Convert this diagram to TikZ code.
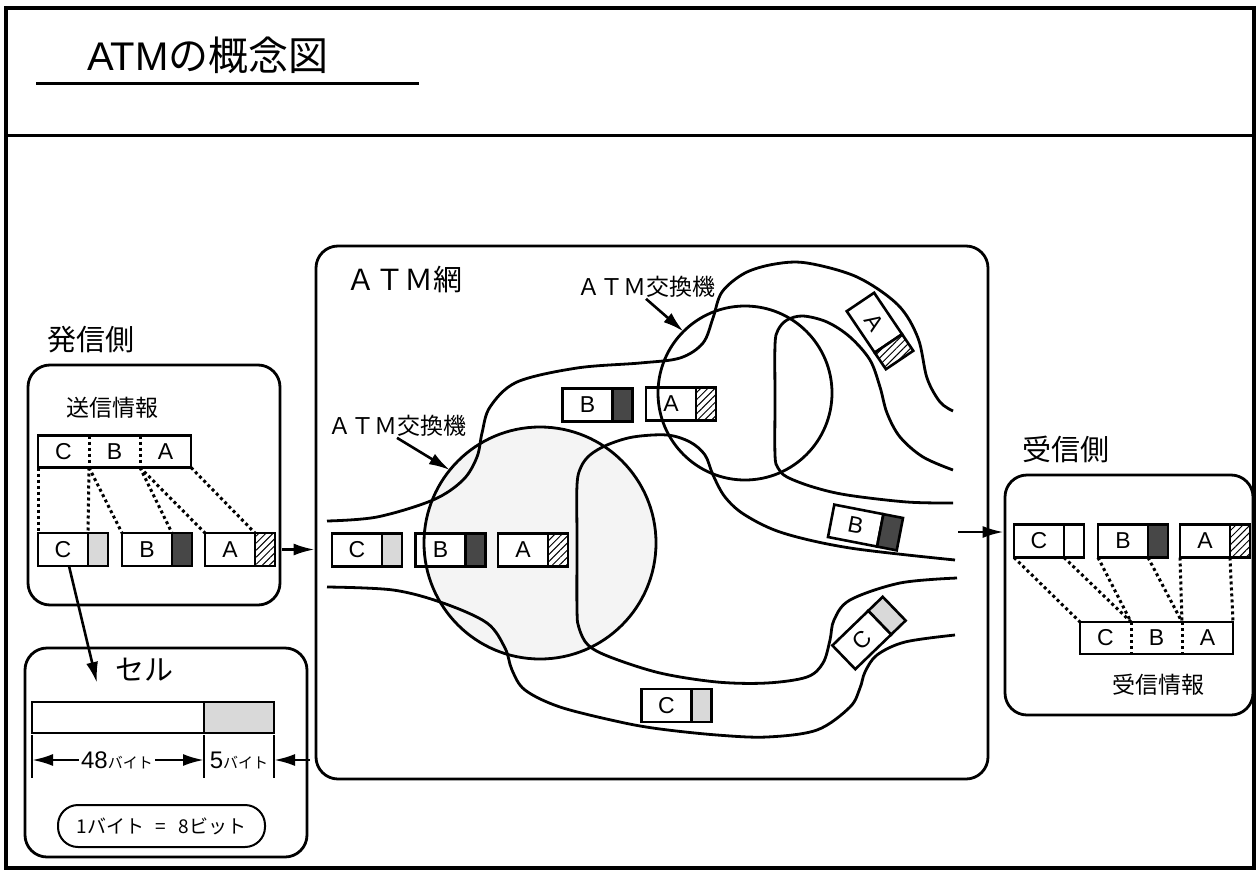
\documentclass[tikz,border=0pt]{standalone}
\usepackage{fontspec}
\setmainfont{Noto Sans CJK JP}
\newfontfamily\lsans{Liberation Sans}
\usetikzlibrary{arrows.meta,positioning,patterns.meta}

\tikzset{
  roundbox/.style={draw, line width=2.8pt, rounded corners=22pt, inner sep=0pt},
  cellbody/.style={draw, line width=2.6pt, fill=white, minimum width=50pt, minimum height=33pt,
    inner sep=0pt, outer sep=0pt, font=\lsans\fontsize{23}{23}\selectfont},
  cellhdr/.style={draw, line width=2.6pt, minimum width=20pt, minimum height=33pt,
    inner sep=0pt, outer sep=0pt},
  lighthdr/.style={fill=gray!30},
  darkhdr/.style={fill=black!72},
  hatchhdr/.style={preaction={fill=white}, pattern={Lines[angle=45,distance=5pt,line width=1pt]}},
  whitehdr/.style={fill=white},
  infopart/.style={minimum width=51pt, minimum height=32pt, inner sep=0pt, outer sep=0pt,
    font=\lsans\fontsize{23}{23}\selectfont},
  dotline/.style={line width=3pt, dash pattern=on 3pt off 3pt},
  netline/.style={line width=2.8pt},
  switch/.style={draw, circle, line width=2.8pt, inner sep=0pt, outer sep=0pt},
  arr/.style={-{Latex[length=21pt,width=12pt]}, line width=2.6pt},
  biglbl/.style={font=\fontsize{29}{32}\selectfont},
  midlbl/.style={font=\fontsize{23}{26}\selectfont}
}

% one ATM cell: name, centre, letter, header style, angle
\newcommand{\atmcell}[5]{%
  \begin{scope}[shift={#2}, rotate=#5, transform shape]
    \node[cellbody] (#1p) at (-10,0) {#3};
    \node[cellhdr, #4, anchor=west] (#1h) at (#1p.east) {};
  \end{scope}}

\begin{document}
\begin{tikzpicture}[x=1pt,y=-1pt]
\useasboundingbox (0,0) rectangle (1258,870);

% frame and title
\draw[line width=3.5pt] (6,8) rectangle (1254,868);
\draw[line width=3pt] (6,135) -- (1254,135);
\node[anchor=base west, inner sep=0pt, font=\fontsize{40}{44}\selectfont] (title) at (87,70) {{\lsans ATM}の概念図};
\draw[line width=3pt] (36,83) -- (419,83);

% boxes
\node[roundbox, minimum width=252pt, minimum height=240pt] (sendbox) at (154,485) {};
\node[roundbox, minimum width=282pt, minimum height=209pt] (cellbox) at (166,752.5) {};
\node[roundbox, minimum width=672pt, minimum height=533pt] (netbox) at (652,512.5) {};
\node[roundbox, minimum width=248pt, minimum height=240pt] (recvbox) at (1129,595) {};

% ATM network
\fill[gray!9] (540,543) circle[radius=116];

\draw[netline] plot[smooth, tension=0.55] coordinates {(327,521) (377,517) (433,500) (463,480)
  (477,457) (482,433) (490,407) (517,382) (577,368) (640,363) (680,358) (703,343) (713,318)
  (722,292) (745,273) (775,264) (807,263) (857,277) (898,305) (918,338) (927,378) (940,402) (953,411)};
\draw[netline] plot[smooth, tension=0.55] coordinates {(327,587) (393,590) (443,603) (487,623)
  (505,648) (512,670) (525,690) (560,707) (620,722) (660,729) (717,735) (767,737) (817,730)
  (850,707) (860,688) (865,672) (877,655) (905,642) (955,635)};
\draw[netline] plot[smooth, tension=0.55] coordinates {(955,560) (850,548) (783,533) (745,515)
  (725,497) (713,475) (705,455) (690,442) (667,435) (633,437) (607,445) (590,455) (581,467)
  (577,485) (577,540) (577,610) (579,628) (588,645) (610,657) (660,673) (717,682) (767,683)
  (807,677) (823,663) (830,640) (834,620) (850,600) (900,583) (957,578)};
\draw[netline] plot[smooth, tension=0.55] coordinates {(953,470) (923,457) (900,437) (887,413)
  (880,387) (870,360) (850,337) (827,322) (803,316) (787,320) (778,330) (775,345) (775,400)
  (775,455) (778,468) (787,477) (813,487) (847,495) (907,502) (953,503)};

% sender
\node[biglbl] (sendlbl) at (91,340) {発信側};
\node[midlbl] (sendinfo) at (112,408) {送信情報};
\node[infopart] (sC) at (63.5,451.5) {C};
\node[infopart, right=0pt of sC] (sB) {B};
\node[infopart, right=0pt of sB] (sA) {A};
\draw[line width=2.6pt] (sC.north west) rectangle (sA.south east);
\draw[dotline] (sC.north east) -- (sC.south east);
\draw[dotline] (sB.north east) -- (sB.south east);

\atmcell{cC}{(73,549.5)}{C}{lighthdr}{0}
\atmcell{cB}{(157,549.5)}{B}{darkhdr}{0}
\atmcell{cA}{(240,549.5)}{A}{hatchhdr}{0}

\draw[dotline] (sC.south west) -- (cCp.north west);
\draw[dotline] (sC.south east) -- (cCp.north east);
\draw[dotline] (sC.south east) -- (cBp.north west);
\draw[dotline] (sB.south east) -- (cBp.north east);
\draw[dotline] (sB.south east) -- (cAp.north west);
\draw[dotline] (sA.south east) -- (cAp.north east);

% cells in the network
\atmcell{nC}{(367,550)}{C}{lighthdr}{0}
\atmcell{nB}{(450.5,550)}{B}{darkhdr}{0}
\atmcell{nA}{(533,550)}{A}{hatchhdr}{0}
\atmcell{tB}{(597.5,405)}{B}{darkhdr}{0}
\atmcell{tA}{(681,404)}{A}{hatchhdr}{0}
\atmcell{xA}{(880,331)}{A}{hatchhdr}{-56}
\atmcell{xB}{(865.5,527.5)}{B}{darkhdr}{-11}
\atmcell{xC}{(869,633)}{C}{lighthdr}{44}
\atmcell{bC}{(676.5,705.5)}{C}{lighthdr}{0}

% switches
\node[switch, minimum size=232pt] (sw1) at (540,543) {};
\node[switch, minimum size=174pt] (sw2) at (745,393) {};
\node[biglbl] (netlbl) at (404,280) {ＡＴＭ網};
\node[midlbl, inner sep=1pt] (sw1lbl) at (397,426) {ＡＴＭ交換機};
\node[midlbl, inner sep=1pt] (sw2lbl) at (646,287) {ＡＴＭ交換機};
\draw[arr] (sw1lbl.south) -- (sw1.141);
\draw[arr] (sw2lbl.south) -- (sw2.135);

% receiver
\node[biglbl] (recvlbl) at (1066,449) {受信側};
\atmcell{vC}{(1049,541)}{C}{whitehdr}{0}
\atmcell{vB}{(1133,541)}{B}{darkhdr}{0}
\atmcell{vA}{(1215,541)}{A}{hatchhdr}{0}
\node[infopart] (rC) at (1105.5,638) {C};
\node[infopart, right=0pt of rC] (rB) {B};
\node[infopart, right=0pt of rB] (rA) {A};
\draw[line width=2.6pt] (rC.north west) rectangle (rA.south east);
\draw[dotline] (rC.north east) -- (rC.south east);
\draw[dotline] (rB.north east) -- (rB.south east);
\draw[dotline] (vCp.south west) -- (rC.north west);
\draw[dotline] (vCp.south east) -- (rC.north east);
\draw[dotline] (vBp.south west) -- (rC.north east);
\draw[dotline] (vBp.south east) -- (rB.north east);
\draw[dotline] (vAp.south west) -- (rB.north east);
\draw[dotline] (vAp.south east) -- (rA.north east);
\node[midlbl] (recvinfo) at (1158,685) {受信情報};

% cell layout
\node[biglbl] (celllbl) at (144,670) {セル};
\node[draw, line width=2.6pt, minimum width=172pt, minimum height=31pt, inner sep=0pt, outer sep=0pt] (cbody) at (118,717.5) {};
\node[draw, line width=2.6pt, fill=gray!30, minimum width=70pt, minimum height=31pt, inner sep=0pt, outer sep=0pt, anchor=west] (chdr) at (cbody.east) {};
\draw[line width=2pt] ([yshift=-2pt]cbody.south west) -- ++(0,43);
\draw[line width=2pt] ([yshift=-2pt]cbody.south east) -- ++(0,43);
\draw[line width=2pt] ([yshift=-2pt]chdr.south east) -- ++(0,43);
\node[inner sep=2pt] (d48) at (117,760) {{\lsans\fontsize{24}{24}\selectfont 48}{\fontsize{15}{16}\selectfont バイト}};
\node[inner sep=0pt] (d5) at (239,760) {{\lsans\fontsize{24}{24}\selectfont 5}{\fontsize{15}{16}\selectfont バイト}};
\draw[arr] (d48.west) -- (d48.west -| cbody.west);
\draw[arr] (d48.east) -- (d48.east -| cbody.east);
\coordinate (d5in) at (310,760);
\draw[arr] (d5in) -- (d5in -| chdr.east);
\node[draw, line width=2pt, rounded corners=20pt, minimum width=207pt, minimum height=42pt] (bitnote) at (161.5,826)
  {\fontsize{19}{20}\selectfont 1バイト\hspace{11pt}=\hspace{13pt}8ビット};

% flow arrows
\draw[arr] ([xshift=7pt]cAh.east) -- (cAh.east -| netbox.west);
\coordinate (celltip) at (97,683);
\draw[arr] ([xshift=6pt]cCp.south) -- (celltip);
\coordinate (netout) at (958,532);
\draw[arr] (netout) -- (netout -| recvbox.west);

\end{tikzpicture}
\end{document}
